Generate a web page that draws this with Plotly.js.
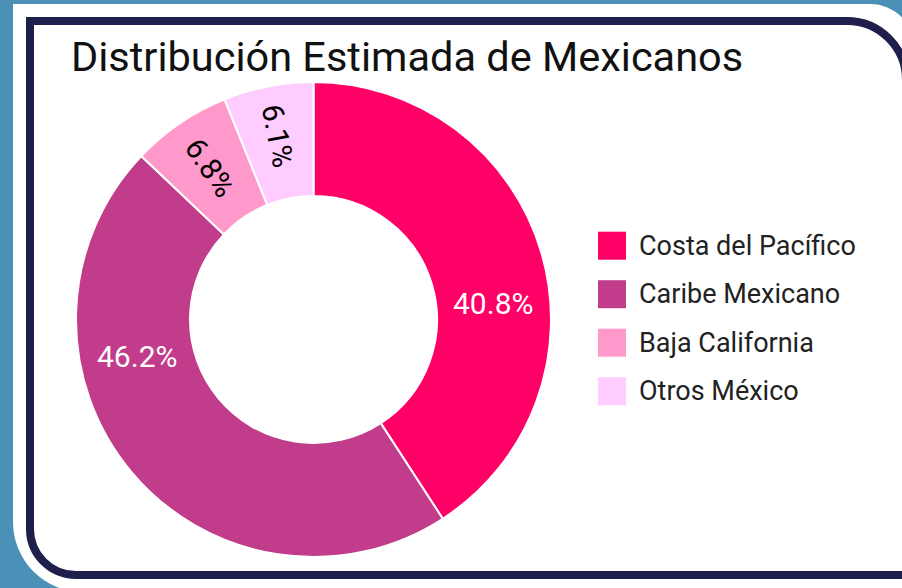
<!DOCTYPE html>
<html>
<head>
<meta charset="utf-8">
<script src="https://cdn.plot.ly/plotly-3.0.1.min.js"></script>
<style>
  html, body { margin: 0; padding: 0; }
  body { width: 902px; height: 588px; overflow: hidden; background: #4a90b7; position: relative; }
  #outer { position: absolute; left: 13px; top: 4px; width: 902px; height: 588px; background: #ffffff;
           border-radius: 0 45px 0 70px; }
  #card { position: absolute; left: 26px; top: 17px; width: 884px; height: 562px; box-sizing: border-box;
          border: 8px solid #1e1f4a; border-radius: 0 63px 0 50px; background: #ffffff; }
  #chart { position: absolute; left: 0; top: 0; width: 902px; height: 588px; }
</style>
</head>
<body>
<div id="outer"></div>
<div id="card"></div>
<div id="chart"></div>
<script>
// Data
const regions = ["Costa del Pacífico", "Caribe Mexicano", "Baja California", "Otros México"];
const shares = [40.8, 46.2, 6.8, 6.1];
const sliceColors = ["#ff0066", "#c13c8a", "#ff99cc", "#ffccff"];
const labelColors = ["#ffffff", "#ffffff", "#000000", "#000000"];
const chartTitle = "Distribución Estimada de Mexicanos";

const W = 902, H = 588;
const px = v => v / W;
const py = v => 1 - v / H;
const FONT = "Roboto, 'Open Sans', sans-serif";

// pie geometry (pixels)
const CX = 313.5, CY = 319.5, R = 237.5, HOLE = 0.52;

const total = shares.reduce((a, b) => a + b, 0);
const pctText = shares.map(v => (v / total * 100).toFixed(1) + "%");
// large slices get horizontal labels placed as annotations, small slices use plotly's radial inside text
const isLarge = shares.map(v => v / total > 0.2);

const trace = {
  type: "pie",
  labels: regions,
  values: shares,
  sort: false,
  direction: "clockwise",
  rotation: 0,
  hole: HOLE,
  marker: { colors: sliceColors, line: { color: "#ffffff", width: 2 } },
  text: pctText.map((t, i) => isLarge[i] ? "" : t),
  textinfo: "text",
  textposition: "inside",
  insidetextorientation: "radial",
  textfont: { family: FONT, size: 30, color: labelColors },
  domain: { x: [px(CX - R), px(CX + R)], y: [py(CY + R), py(CY - R)] },
  showlegend: false,
  hoverinfo: "label+percent"
};

const shapes = [];
const annotations = [];

// horizontal labels for the large slices (shifted toward the horizontal axis where they fit best)
let start = 0;
shares.forEach((v, i) => {
  const span = v / total * 360;
  if (isLarge[i]) {
    const mid = start + span / 2;
    const target = Math.abs(mid - 90) < Math.abs(mid - 270) ? 90 : 270;
    const ang = (mid + 0.7 * (target - mid)) * Math.PI / 180;
    const r = R * (1 + HOLE) / 2;
    annotations.push({
      xref: "paper", yref: "paper",
      x: px(CX + r * Math.sin(ang)), y: py(CY - r * Math.cos(ang)),
      xanchor: "center", yanchor: "middle", showarrow: false,
      text: pctText[i], font: { family: FONT, size: 30, color: labelColors[i] }
    });
  }
  start += span;
});

// custom legend built from the data arrays
regions.forEach((name, i) => {
  const cy = 245.7 + i * 48.5;
  shapes.push({
    type: "rect", xref: "paper", yref: "paper",
    x0: px(598), x1: px(626), y0: py(cy + 14), y1: py(cy - 14),
    fillcolor: sliceColors[i], line: { width: 0 }
  });
  annotations.push({
    xref: "paper", yref: "paper", x: px(637), y: py(cy),
    xanchor: "left", yanchor: "middle", showarrow: false,
    text: name, font: { family: FONT, size: 27, color: "#222222" }
  });
});

const layout = {
  width: W, height: H,
  margin: { l: 0, r: 0, t: 0, b: 0 },
  paper_bgcolor: "rgba(0,0,0,0)",
  plot_bgcolor: "rgba(0,0,0,0)",
  title: {
    text: chartTitle,
    x: px(71), xanchor: "left", xref: "paper",
    y: py(56), yanchor: "middle", yref: "paper",
    font: { family: FONT, size: 41.5, color: "#111111" }
  },
  showlegend: false,
  shapes: shapes,
  annotations: annotations
};

Plotly.newPlot("chart", [trace], layout, { displayModeBar: false, staticPlot: true });
</script>
</body>
</html>
